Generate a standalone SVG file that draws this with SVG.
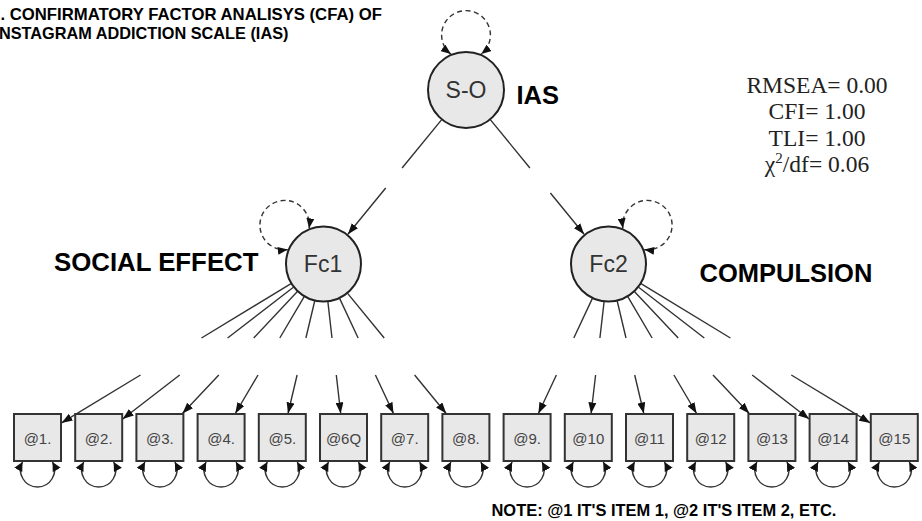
<svg xmlns="http://www.w3.org/2000/svg" width="922" height="521" viewBox="0 0 922 521">
<style>
.conn{fill:none;stroke:#333;stroke-width:1.4;marker-end:url(#ah)}
.var{fill:none;stroke:#333;stroke-width:1.4;stroke-dasharray:5 3.5;marker-start:url(#dh);marker-end:url(#dh)}
.loop{fill:none;stroke:#333;stroke-width:1.4;marker-start:url(#sh);marker-end:url(#sh)}
.latent{fill:#e8e8e8;stroke:#222;stroke-width:2}
.item{fill:#e8e8e8;stroke:#333;stroke-width:2}
.ltxt{font-family:"Liberation Sans",Arial,sans-serif;font-size:23px;fill:#333;text-anchor:middle}
.itxt{font-family:"Liberation Sans",Arial,sans-serif;font-size:15px;fill:#444;text-anchor:middle}
.bold{font-family:"Liberation Sans",Arial,sans-serif;font-weight:bold;fill:#000}
.fit{font-family:"Liberation Serif","Times New Roman",serif;font-size:23.5px;fill:#222;text-anchor:middle}
</style>
<defs>
<marker id="ah" viewBox="0 0 10 10" refX="10" refY="5" markerUnits="userSpaceOnUse" markerWidth="11" markerHeight="8" preserveAspectRatio="none" orient="auto"><path d="M0,0L10,5L0,10z" fill="#111" stroke="none"/></marker>
<marker id="sh" viewBox="0 0 10 10" refX="10" refY="5" markerUnits="userSpaceOnUse" markerWidth="9" markerHeight="9" preserveAspectRatio="none" orient="auto-start-reverse"><path d="M0,0L10,5L0,10z" fill="#111" stroke="none"/></marker>
<marker id="dh" viewBox="0 0 10 10" refX="10" refY="5" markerUnits="userSpaceOnUse" markerWidth="10" markerHeight="8" preserveAspectRatio="none" orient="auto-start-reverse"><path d="M0,0L10,5L0,10z" fill="#111" stroke="none"/></marker>
</defs>
<rect width="922" height="521" fill="#fff"/>

<g id="title">
<text class="bold" x="0.5" y="20" font-size="16.7">. CONFIRMATORY FACTOR ANALISYS (CFA) OF</text>
<text class="bold" x="-1" y="39" font-size="16.3">NSTAGRAM ADDICTION SCALE (IAS)</text>
</g>

<g id="connectors">
<path class="conn" d="M441.9,119.4L402.1,168M385.7,188L347.9,234.2"/>
<path class="conn" d="M490.1,119.4L529.9,168M550.4,193L584.1,234.2"/>
<path class="conn" d="M291,283.7L201.5,338M140.5,375L61.5,422.9"/>
<path class="conn" d="M293.4,287.2L227.6,338M179.7,375L122.7,419"/>
<path class="conn" d="M297.4,291.6L253.7,338M218.8,375L182.5,413.5"/>
<path class="conn" d="M304.2,296.7L279.8,338M258,375L235.3,413.5"/>
<path class="conn" d="M314.7,301L305.9,338M297.1,375L288,413.5"/>
<path class="conn" d="M327.9,301.8L332,338M336.3,375L340.7,413.5"/>
<path class="conn" d="M339.6,298.4L358.1,338M375.4,375L393.5,413.5"/>
<path class="conn" d="M347.6,293.4L384.2,338M414.6,375L446.2,413.5"/>
<path class="conn" d="M592.4,298.4L573.8,338M556.4,375L538.4,413.5"/>
<path class="conn" d="M604.1,301.7L599.9,338M595.6,375L591.1,413.5"/>
<path class="conn" d="M617.2,301L626,338M634.7,375L643.8,413.5"/>
<path class="conn" d="M627.8,296.7L652.1,338M673.9,375L696.6,413.5"/>
<path class="conn" d="M634.6,291.7L678.2,338M713,375L749.3,413.5"/>
<path class="conn" d="M638.6,287.2L704.3,338M752.2,375L809.1,419"/>
<path class="conn" d="M641,283.7L730.4,338M791.3,375L870.3,422.9"/>
<path class="var" d="M450.8,54.1A24.4,24.4 0 1 1 481.2,54.1"/>
<path class="var" d="M287.8,249.6A24.7,24.7 0 1 1 309.1,228.3"/>
<path class="var" d="M644.2,249.6A24.7,24.7 0 1 0 622.9,228.3"/>
<path class="loop" d="M22.5,462A17,17 0 1 0 52.5,462"/>
<path class="loop" d="M83.7,462A17,17 0 1 0 113.7,462"/>
<path class="loop" d="M144.9,462A17,17 0 1 0 174.9,462"/>
<path class="loop" d="M206.1,462A17,17 0 1 0 236.1,462"/>
<path class="loop" d="M267.3,462A17,17 0 1 0 297.3,462"/>
<path class="loop" d="M328.5,462A17,17 0 1 0 358.5,462"/>
<path class="loop" d="M389.7,462A17,17 0 1 0 419.7,462"/>
<path class="loop" d="M450.9,462A17,17 0 1 0 480.9,462"/>
<path class="loop" d="M512.1,462A17,17 0 1 0 542.1,462"/>
<path class="loop" d="M573.3,462A17,17 0 1 0 603.3,462"/>
<path class="loop" d="M634.5,462A17,17 0 1 0 664.5,462"/>
<path class="loop" d="M695.7,462A17,17 0 1 0 725.7,462"/>
<path class="loop" d="M756.9,462A17,17 0 1 0 786.9,462"/>
<path class="loop" d="M818.1,462A17,17 0 1 0 848.1,462"/>
<path class="loop" d="M879.3,462A17,17 0 1 0 909.3,462"/>
</g>

<g id="node-SO"><circle class="latent" cx="466" cy="90" r="38"/><text class="ltxt" x="466" y="98.3">S-O</text></g>
<g id="node-Fc1"><circle class="latent" cx="323.5" cy="264" r="37.5"/><text class="ltxt" x="323" y="272.3">Fc1</text></g>
<g id="node-Fc2"><circle class="latent" cx="608.5" cy="264" r="37.5"/><text class="ltxt" x="608.5" y="272.3">Fc2</text></g>

<g id="node-item1"><rect class="item" x="14" y="414" width="47" height="47"/><text class="itxt" x="37.5" y="443.5">@1.</text></g>
<g id="node-item2"><rect class="item" x="75.2" y="414" width="47" height="47"/><text class="itxt" x="98.7" y="443.5">@2.</text></g>
<g id="node-item3"><rect class="item" x="136.4" y="414" width="47" height="47"/><text class="itxt" x="159.9" y="443.5">@3.</text></g>
<g id="node-item4"><rect class="item" x="197.6" y="414" width="47" height="47"/><text class="itxt" x="221.1" y="443.5">@4.</text></g>
<g id="node-item5"><rect class="item" x="258.8" y="414" width="47" height="47"/><text class="itxt" x="282.3" y="443.5">@5.</text></g>
<g id="node-item6"><rect class="item" x="320" y="414" width="47" height="47"/><text class="itxt" x="343.5" y="443.5">@6Q</text></g>
<g id="node-item7"><rect class="item" x="381.2" y="414" width="47" height="47"/><text class="itxt" x="404.7" y="443.5">@7.</text></g>
<g id="node-item8"><rect class="item" x="442.4" y="414" width="47" height="47"/><text class="itxt" x="465.9" y="443.5">@8.</text></g>
<g id="node-item9"><rect class="item" x="503.6" y="414" width="47" height="47"/><text class="itxt" x="527.1" y="443.5">@9.</text></g>
<g id="node-item10"><rect class="item" x="564.8" y="414" width="47" height="47"/><text class="itxt" x="588.3" y="443.5">@10</text></g>
<g id="node-item11"><rect class="item" x="626" y="414" width="47" height="47"/><text class="itxt" x="649.5" y="443.5">@11</text></g>
<g id="node-item12"><rect class="item" x="687.2" y="414" width="47" height="47"/><text class="itxt" x="710.7" y="443.5">@12</text></g>
<g id="node-item13"><rect class="item" x="748.4" y="414" width="47" height="47"/><text class="itxt" x="771.9" y="443.5">@13</text></g>
<g id="node-item14"><rect class="item" x="809.6" y="414" width="47" height="47"/><text class="itxt" x="833.1" y="443.5">@14</text></g>
<g id="node-item15"><rect class="item" x="870.8" y="414" width="47" height="47"/><text class="itxt" x="894.3" y="443.5">@15</text></g>

<g id="labels">
<text class="bold" x="516.5" y="104" font-size="25.5">IAS</text>
<text class="bold" x="54" y="270.5" font-size="25.8">SOCIAL EFFECT</text>
<text class="bold" x="699.5" y="282" font-size="25.5">COMPULSION</text>
</g>

<g id="fit">
<text class="fit" x="817" y="92.5">RMSEA= 0.00</text>
<text class="fit" x="817" y="119">CFI= 1.00</text>
<text class="fit" x="817" y="145.5">TLI= 1.00</text>
<text class="fit" x="817" y="172">χ<tspan font-size="15" dy="-9">2</tspan><tspan dy="9">/df= 0.06</tspan></text>
</g>

<g id="note">
<text class="bold" x="491.5" y="516" font-size="16.45">NOTE: @1 IT'S ITEM 1, @2 IT'S ITEM 2, ETC.</text>
</g>
</svg>
